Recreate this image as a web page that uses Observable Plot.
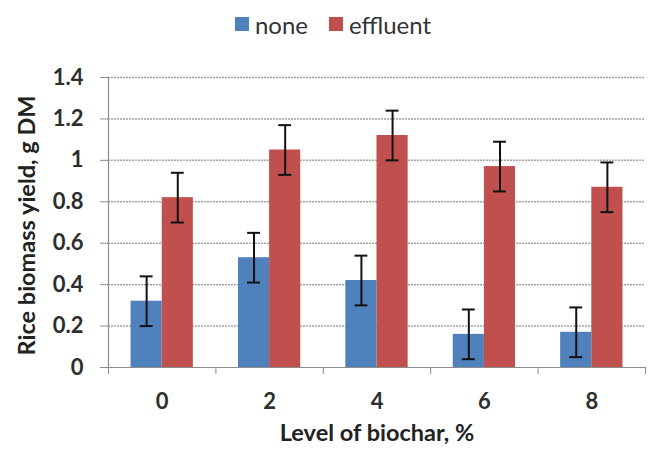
<!DOCTYPE html>
<html>
<head>
<meta charset="utf-8">
<script src="https://cdn.jsdelivr.net/npm/d3@7"></script>
<script src="https://cdn.jsdelivr.net/npm/@observablehq/plot@0.6"></script>
<style>
  body { margin: 0; background: #fff; font-family: Lato, "Open Sans", sans-serif; }
  #legend { height: 44px; display: flex; justify-content: center; align-items: center; gap: 21px; padding-left: 10px; padding-top: 4px; box-sizing: border-box; font-size: 24px; color: #333; }
  #legend .item { display: flex; align-items: center; gap: 6px; }
  #legend .sw { width: 14px; height: 14px; display: inline-block; }
</style>
</head>
<body>
<div id="legend"></div>
<div id="chart"></div>
<script>
// Biochar levels (%) and rice biomass yield (g DM) with standard errors
const levels = [0, 2, 4, 6, 8];
const noneYield = [0.32, 0.53, 0.42, 0.16, 0.17];
const noneErr = [0.12, 0.12, 0.12, 0.12, 0.12];
const effluentYield = [0.82, 1.05, 1.12, 0.97, 0.87];
const effluentErr = [0.12, 0.12, 0.12, 0.12, 0.12];
const seriesNames = ["none", "effluent"];
const colors = ["#4F81BD", "#C0504D"];
const yTicks = [0, 0.2, 0.4, 0.6, 0.8, 1, 1.2, 1.4];

const barW = 0.58;   // bar width in x units
const capW = 0.12;   // half width of error caps in x units

const rows = [];
levels.forEach((lv, i) => {
  rows.push({level: lv, series: "none", value: noneYield[i], err: noneErr[i], x1: lv - barW, x2: lv});
  rows.push({level: lv, series: "effluent", value: effluentYield[i], err: effluentErr[i], x1: lv, x2: lv + barW});
});
rows.forEach(d => { d.xc = (d.x1 + d.x2) / 2; });

// legend
const legend = d3.select("#legend");
seriesNames.forEach((s, i) => {
  const it = legend.append("div").attr("class", "item");
  it.append("span").attr("class", "sw").style("background", colors[i]);
  it.append("span").text(s);
});

const font = "Lato, 'Open Sans', sans-serif";
const chart = Plot.plot({
  width: 656,
  height: 408,
  marginTop: 33,
  marginBottom: 85,
  marginLeft: 108,
  marginRight: 11,
  style: {fontFamily: font, fontWeight: "bold", color: "#2e2e2e", background: "#fff", overflow: "visible"},
  x: {domain: [-1, 9]},
  y: {domain: [0, 1.4]},
  color: {domain: seriesNames, range: colors},
  marks: [
    Plot.ruleY(yTicks.filter(t => t > 0), {stroke: "#a3a3a3", strokeWidth: 1.5, strokeDasharray: "2,1"}),
    Plot.rectY(rows, {x1: "x1", x2: "x2", y1: 0, y2: "value", fill: "series"}),
    Plot.ruleX(rows, {x: "xc", y1: d => d.value - d.err, y2: d => d.value + d.err, stroke: "#111", strokeWidth: 2}),
    Plot.ruleY(rows, {y: d => d.value + d.err, x1: d => d.xc - capW, x2: d => d.xc + capW, stroke: "#111", strokeWidth: 2}),
    Plot.ruleY(rows, {y: d => d.value - d.err, x1: d => d.xc - capW, x2: d => d.xc + capW, stroke: "#111", strokeWidth: 2}),
    // axis lines
    Plot.ruleX([-1], {y1: 0, y2: 1.4, stroke: "#8c8c8c", strokeWidth: 1.2}),
    Plot.ruleY([0], {stroke: "#8c8c8c", strokeWidth: 1.2}),
    Plot.axisY({ticks: yTicks, tickSize: 8, tickPadding: 17, stroke: "#8c8c8c", fontSize: 22, label: null, tickFormat: d3.format("")}),
    Plot.axisX({ticks: [-1, 1, 3, 5, 7, 9], tickSize: 7, stroke: "#8c8c8c", tickFormat: () => "", label: null}),
    Plot.axisX({ticks: levels, tickSize: 0, tickPadding: 26, fontSize: 22, label: null}),
    Plot.text(["Level of biochar, %"], {frameAnchor: "bottom", dy: 73, fontSize: 23.5, fontWeight: "bold", fill: "#222"}),
    Plot.text(["Rice biomass yield, g DM"], {frameAnchor: "left", textAnchor: "middle", dx: -81, dy: 3, rotate: -90, fontSize: 23.5, fontWeight: "bold", fill: "#222"})
  ]
});
document.getElementById("chart").appendChild(chart);
</script>
</body>
</html>
